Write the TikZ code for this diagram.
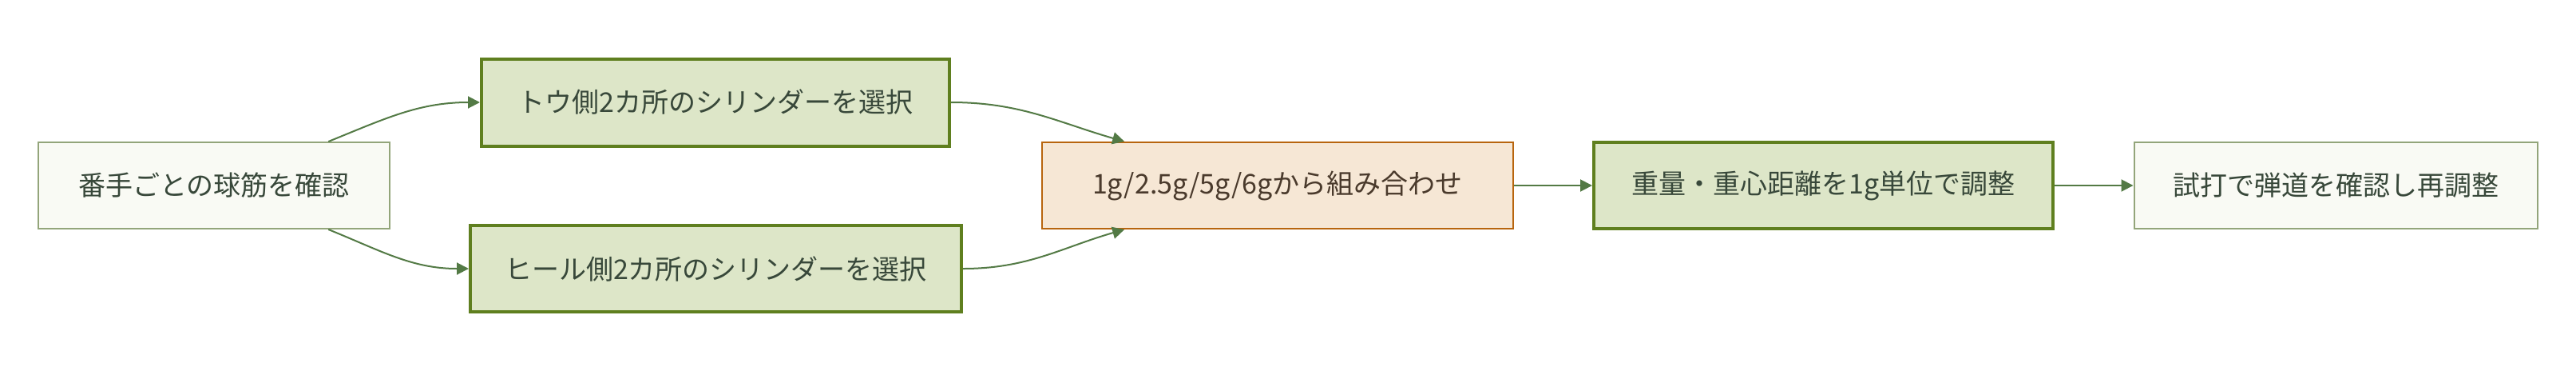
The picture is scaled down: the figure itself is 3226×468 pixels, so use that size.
\documentclass[tikz,border=0pt]{standalone}
\usepackage{fontspec}
\setmainfont{Noto Sans CJK JP}
\usetikzlibrary{arrows.meta}

\definecolor{lightfill}{HTML}{F9FAF4}
\definecolor{lightline}{HTML}{93A57A}
\definecolor{greenfill}{HTML}{DDE6C8}
\definecolor{greenline}{HTML}{5F7F1F}
\definecolor{orangefill}{HTML}{F6E7D5}
\definecolor{orangeline}{HTML}{B8650E}
\definecolor{edgecol}{HTML}{537A45}
\definecolor{textgreen}{HTML}{38483A}
\definecolor{textbrown}{HTML}{4A3A2C}

\begin{document}
\begin{tikzpicture}[x=0.5pt, y=-0.5pt,
        every node/.style={font=\fontsize{17pt}{20pt}\selectfont, inner sep=0pt},
        plainbox/.style={draw=lightline, fill=lightfill, line width=1pt, text=textgreen},
        pickbox/.style={draw=greenline, fill=greenfill, line width=2pt, text=textgreen},
        mixbox/.style={draw=orangeline, fill=orangefill, line width=1pt, text=textbrown},
        flow/.style={draw=edgecol, line width=1pt, -{Triangle[length=7.5pt, width=7.5pt]}}]
        \useasboundingbox (0, 0) rectangle (3226, 468);

        % Start
        \node[plainbox, minimum width=220pt, minimum height=54pt] (check) at (268, 232) {番手ごとの球筋を確認};

        % Toe / Heel
        \node[pickbox, minimum width=293pt, minimum height=54.5pt] (toe) at (896, 128) {トウ側2カ所のシリンダーを選択};
        \node[pickbox, minimum width=307.5pt, minimum height=54pt] (heel) at (896.5, 336) {ヒール側2カ所のシリンダーを選択};

        % Combine
        \node[mixbox, minimum width=295pt, minimum height=54pt] (combine) at (1600, 232) {1g/2.5g/5g/6gから組み合わせ};

        % Adjust
        \node[pickbox, minimum width=287.5pt, minimum height=54pt] (adjust) at (2283.5, 232) {重量・重心距離を1g単位で調整};

        % Test
        \node[plainbox, minimum width=252.5pt, minimum height=54pt] (retest) at (2925, 232) {試打で弾道を確認し再調整};

        \draw[flow] (check.21) to[out=22, in=180] (toe.west);
        \draw[flow] (check.-21) to[out=-22, in=180] (heel.west);
        \draw[flow] (toe.east) to[out=0, in=164] (combine.164);
        \draw[flow] (heel.east) to[out=0, in=196] (combine.196);
        \draw[flow] (combine.east) -- (adjust.west);
        \draw[flow] (adjust.east) -- (retest.west);
    \end{tikzpicture}
\end{document}
